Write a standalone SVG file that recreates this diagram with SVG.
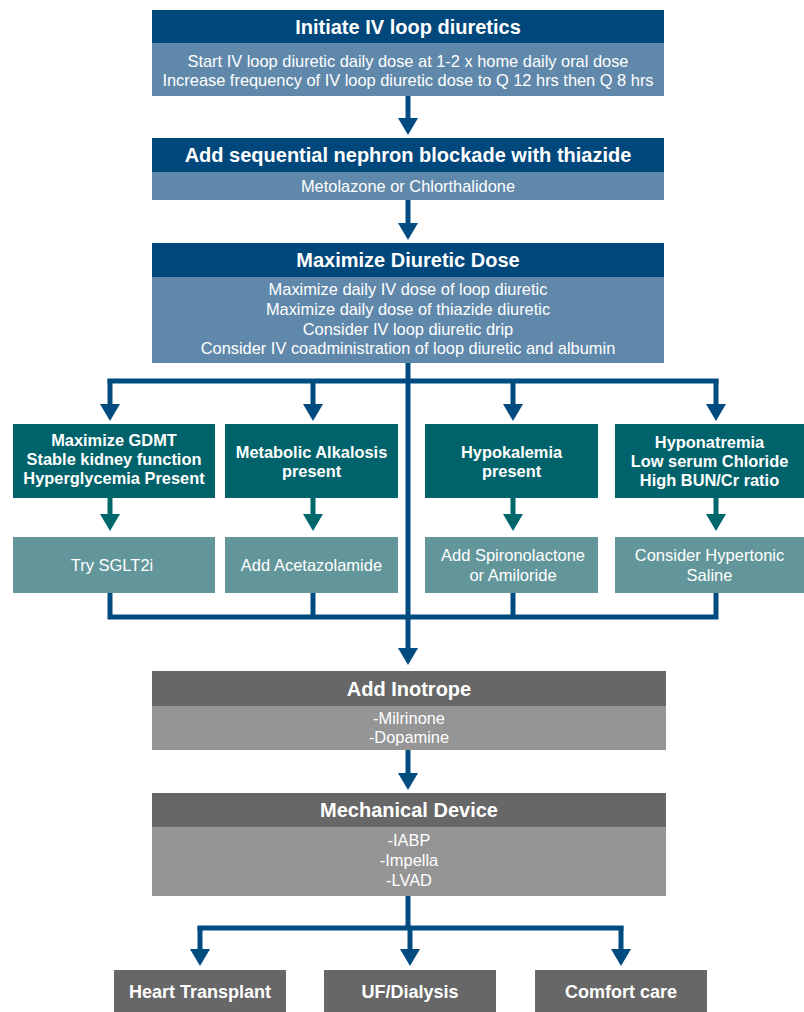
<svg xmlns="http://www.w3.org/2000/svg" width="804" height="1012" viewBox="0 0 804 1012">
<defs>
<style>
.hb{fill:#00477B}
.bb{fill:#6088AA}
.tc{fill:#00626A}
.tl{fill:#62969A}
.gh{fill:#676767}
.gb{fill:#959595}
text{font-family:"Liberation Sans",Arial,sans-serif;fill:#fff;text-anchor:middle}
.h{font-size:20px;font-weight:bold}
.b{font-size:16.4px}
.c{font-size:16.4px;font-weight:bold}
.r{font-size:16.5px}
.f{font-size:18px;font-weight:bold}
.bl{stroke:#004B80;stroke-width:5;fill:none}
.tn{stroke:#00676B;stroke-width:5;fill:none}
</style>
<marker id="ab" markerUnits="userSpaceOnUse" viewBox="0 -10 17 20" refX="5" refY="0" markerWidth="17" markerHeight="20" orient="auto"><path d="M0,-10 L17,0 L0,10 z" fill="#004B80"/></marker>
<marker id="at" markerUnits="userSpaceOnUse" viewBox="0 -10 17 20" refX="5" refY="0" markerWidth="17" markerHeight="20" orient="auto"><path d="M0,-10 L17,0 L0,10 z" fill="#00676B"/></marker>
</defs>

<g id="connectors">
<line class="bl" x1="408" y1="96" x2="408" y2="123" marker-end="url(#ab)"/>
<line class="bl" x1="408" y1="200" x2="408" y2="228" marker-end="url(#ab)"/>
<line class="bl" x1="408" y1="363" x2="408" y2="653" marker-end="url(#ab)"/>
<line class="bl" x1="110" y1="381" x2="716" y2="381" stroke-linecap="square"/>
<line class="bl" x1="110" y1="379" x2="110" y2="409" marker-end="url(#ab)"/>
<line class="bl" x1="313" y1="379" x2="313" y2="409" marker-end="url(#ab)"/>
<line class="bl" x1="513" y1="379" x2="513" y2="409" marker-end="url(#ab)"/>
<line class="bl" x1="716" y1="379" x2="716" y2="409" marker-end="url(#ab)"/>
<line class="tn" x1="110" y1="498" x2="110" y2="519" marker-end="url(#at)"/>
<line class="tn" x1="313" y1="498" x2="313" y2="519" marker-end="url(#at)"/>
<line class="tn" x1="513" y1="498" x2="513" y2="519" marker-end="url(#at)"/>
<line class="tn" x1="716" y1="498" x2="716" y2="519" marker-end="url(#at)"/>
<path class="bl" d="M110,593 V617 H716 V593 M313,593 V617 M513,593 V617"/>
<line class="bl" x1="408" y1="748" x2="408" y2="778" marker-end="url(#ab)"/>
<line class="bl" x1="408" y1="896" x2="408" y2="928"/>
<line class="bl" x1="200" y1="928" x2="621" y2="928" stroke-linecap="square"/>
<line class="bl" x1="200" y1="926" x2="200" y2="954" marker-end="url(#ab)"/>
<line class="bl" x1="410" y1="926" x2="410" y2="954" marker-end="url(#ab)"/>
<line class="bl" x1="621" y1="926" x2="621" y2="954" marker-end="url(#ab)"/>
</g>

<g id="initiate">
<rect class="hb" x="152" y="10" width="512" height="33"/>
<rect class="bb" x="152" y="43" width="512" height="53"/>
<text class="h" x="408" y="34">Initiate IV loop diuretics</text>
<text class="b" x="408" y="67">Start IV loop diuretic daily dose at 1-2 x home daily oral dose</text>
<text class="b" x="408" y="86">Increase frequency of IV loop diuretic dose to Q 12 hrs then Q 8 hrs</text>
</g>

<g id="sequential">
<rect class="hb" x="152" y="138" width="512" height="34"/>
<rect class="bb" x="152" y="172" width="512" height="28"/>
<text class="h" x="408" y="162">Add sequential nephron blockade with thiazide</text>
<text class="b" x="408" y="192">Metolazone or Chlorthalidone</text>
</g>

<g id="maximize">
<rect class="hb" x="152" y="243" width="512" height="34"/>
<rect class="bb" x="152" y="277" width="512" height="86"/>
<text class="h" x="408" y="267">Maximize Diuretic Dose</text>
<text class="b" x="408" y="295">Maximize daily IV dose of loop diuretic</text>
<text class="b" x="408" y="315">Maximize daily dose of thiazide diuretic</text>
<text class="b" x="408" y="334.5">Consider IV loop diuretic drip</text>
<text class="b" x="408" y="354">Consider IV coadministration of loop diuretic and albumin</text>
</g>

<g id="cond-gdmt">
<rect class="tc" x="13" y="424" width="202" height="74"/>
<text class="c" x="114" y="446">Maximize GDMT</text>
<text class="c" x="114" y="465">Stable kidney function</text>
<text class="c" x="114" y="484">Hyperglycemia Present</text>
</g>
<g id="cond-alkalosis">
<rect class="tc" x="225" y="424" width="173" height="74"/>
<text class="c" x="311.5" y="458">Metabolic Alkalosis</text>
<text class="c" x="311.5" y="477">present</text>
</g>
<g id="cond-hypokalemia">
<rect class="tc" x="425" y="424" width="173" height="74"/>
<text class="c" x="511.5" y="458">Hypokalemia</text>
<text class="c" x="511.5" y="477">present</text>
</g>
<g id="cond-hyponatremia">
<rect class="tc" x="615" y="424" width="189" height="74"/>
<text class="c" x="709.5" y="448">Hyponatremia</text>
<text class="c" x="709.5" y="467">Low serum Chloride</text>
<text class="c" x="709.5" y="486">High BUN/Cr ratio</text>
</g>

<g id="res-sglt2i">
<rect class="tl" x="13" y="537" width="202" height="56"/>
<text class="r" x="112" y="571">Try SGLT2i</text>
</g>
<g id="res-acetazolamide">
<rect class="tl" x="225" y="537" width="173" height="56"/>
<text class="r" x="311.5" y="571">Add Acetazolamide</text>
</g>
<g id="res-spironolactone">
<rect class="tl" x="425" y="537" width="173" height="56"/>
<text class="r" x="513" y="561">Add Spironolactone</text>
<text class="r" x="513" y="581">or Amiloride</text>
</g>
<g id="res-saline">
<rect class="tl" x="615" y="537" width="189" height="56"/>
<text class="r" x="709.5" y="561">Consider Hypertonic</text>
<text class="r" x="709.5" y="581">Saline</text>
</g>

<g id="inotrope">
<rect class="gh" x="152" y="671" width="514" height="35"/>
<rect class="gb" x="152" y="706" width="514" height="44"/>
<text class="h" x="409" y="696">Add Inotrope</text>
<text class="b" x="409" y="723.5">-Milrinone</text>
<text class="b" x="409" y="742.5">-Dopamine</text>
</g>

<g id="device">
<rect class="gh" x="152" y="793" width="514" height="34"/>
<rect class="gb" x="152" y="827" width="514" height="69"/>
<text class="h" x="409" y="817">Mechanical Device</text>
<text class="b" x="409" y="846">-IABP</text>
<text class="b" x="409" y="866">-Impella</text>
<text class="b" x="409" y="886">-LVAD</text>
</g>

<g id="transplant">
<rect class="gh" x="114" y="970" width="172" height="42"/>
<text class="f" x="200" y="998">Heart Transplant</text>
</g>
<g id="dialysis">
<rect class="gh" x="324" y="970" width="172" height="42"/>
<text class="f" x="410" y="998">UF/Dialysis</text>
</g>
<g id="comfort">
<rect class="gh" x="535" y="970" width="172" height="42"/>
<text class="f" x="621" y="998">Comfort care</text>
</g>
</svg>
